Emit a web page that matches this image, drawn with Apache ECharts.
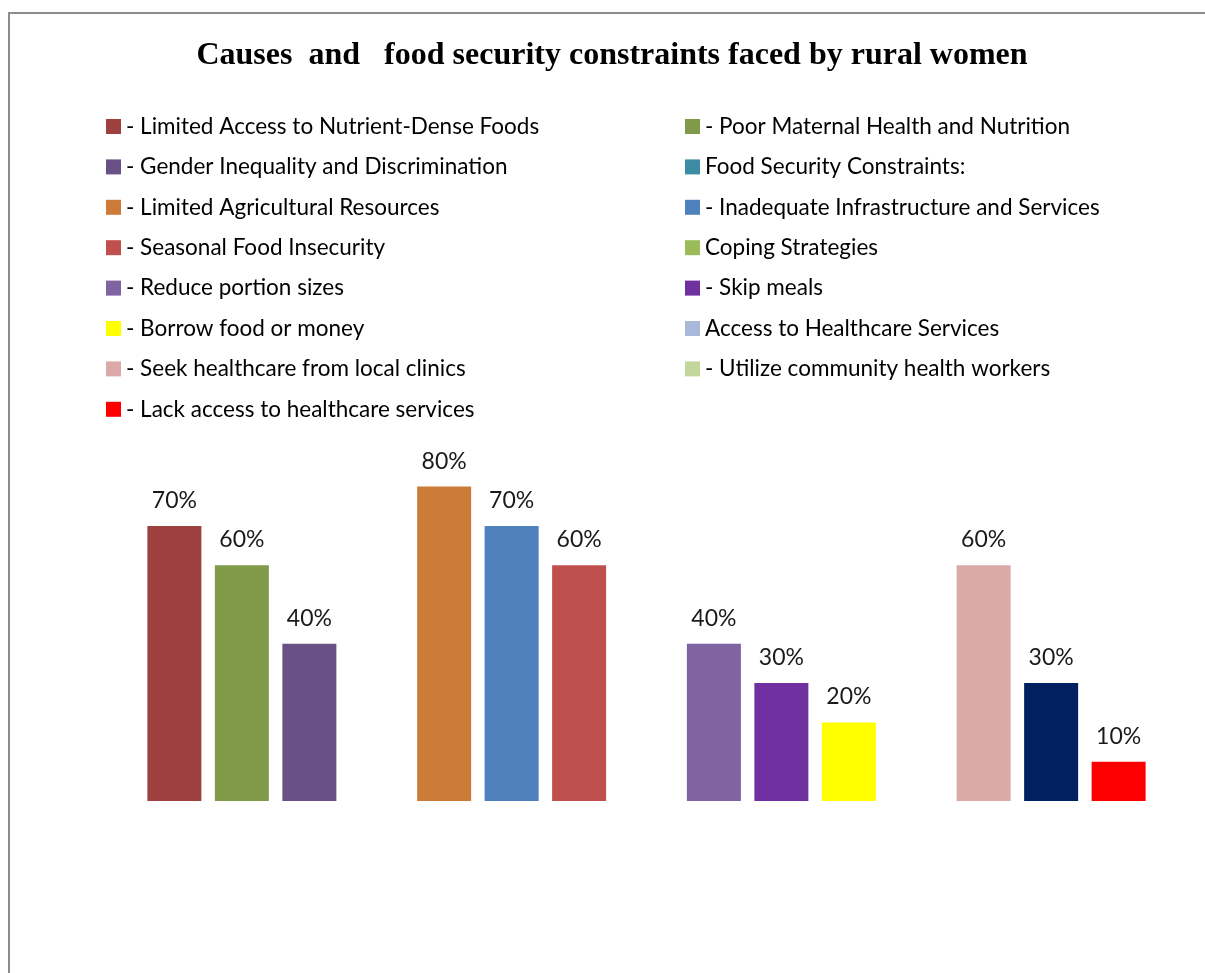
<!DOCTYPE html>
<html>
<head>
<meta charset="utf-8">
<title>Causes and food security constraints faced by rural women</title>
<script src="https://cdn.jsdelivr.net/npm/echarts@6/dist/echarts.min.js"></script>
<style>
  html, body { margin: 0; padding: 0; background: #fff; }
  #chart { width: 1205px; height: 973px; }
</style>
</head>
<body>
<div id="chart"></div>
<script>
// categories (x axis is hidden in the original)
const categories = ['Causes', 'Food Security Constraints', 'Coping Strategies', 'Access to Healthcare Services']

// one entry per legend item, in legend order
const seriesNames = [
  '- Limited Access to Nutrient-Dense Foods',
  '- Poor Maternal Health and Nutrition',
  '- Gender Inequality and Discrimination',
  'Food Security Constraints:',
  '- Limited Agricultural Resources',
  '- Inadequate Infrastructure and Services',
  '- Seasonal Food Insecurity',
  'Coping Strategies',
  '- Reduce portion sizes',
  '- Skip meals',
  '- Borrow food or money',
  'Access to Healthcare Services',
  '- Seek healthcare from local clinics',
  '- Utilize community health workers',
  '- Lack access to healthcare services'
]
// which category each series has a bar in (null = header row, no bar)
const seriesCategory = [0, 0, 0, null, 1, 1, 1, null, 2, 2, 2, null, 3, 3, 3]
// values in percent
const seriesValues = [70, 60, 40, null, 80, 70, 60, null, 40, 30, 20, null, 60, 30, 10]
// slot inside the group (1st, 2nd, 3rd bar)
const seriesSlot = [0, 1, 2, 0, 0, 1, 2, 0, 0, 1, 2, 0, 0, 1, 2]
// legend colours
const seriesColors = [
  '#9E413E', '#7F9A48', '#695185', '#3C8DA3', '#CC7B38',
  '#4F81BD', '#C0504D', '#9BBB59', '#8064A2', '#7030A0',
  '#FFFF00', '#A9B8D8', '#DBA9A8', '#C3D69B', '#FF0000'
]
// bar colour when the point was recoloured (legend keeps the series colour)
const barColors = [null, null, null, null, null, null, null, null, null, null, null, null, null, '#002060', null]

const chart = echarts.init(document.getElementById('chart'))

const series = seriesNames.map((name, i) => {
  const data = categories.map((c, ci) => {
    if (seriesCategory[i] !== ci) return '-'
    const item = { value: seriesValues[i] / 100 }
    if (barColors[i]) item.itemStyle = { color: barColors[i] }
    return item
  })
  return {
    name: name,
    type: 'bar',
    stack: 'slot' + seriesSlot[i],
    barWidth: 54,
    barGap: '25%',
    itemStyle: { color: seriesColors[i] },
    label: {
      show: true,
      position: 'top',
      distance: 14,
      color: '#1a1a1a',
      fontFamily: 'Lato',
      fontSize: 23,
      formatter: p => Math.round(p.value * 100) + '%'
    },
    data: data
  }
})

const legendBase = {
  orient: 'vertical',
  top: 110,
  itemWidth: 15,
  itemHeight: 15,
  itemGap: 17.4,
  icon: 'rect',
  selectedMode: false,
  textStyle: { fontFamily: 'Lato', fontSize: 22.5, color: '#000', lineHeight: 22 }
}

const option = {
  animation: false,
  backgroundColor: '#fff',
  title: {
    text: 'Causes  and   food security constraints faced by rural women',
    left: 607,
    top: 35,
    textAlign: 'center',
    textStyle: {
      fontFamily: 'Liberation Serif',
      fontWeight: 'bold',
      fontSize: 32,
      color: '#000'
    }
  },
  legend: [
    Object.assign({}, legendBase, { left: 101, data: seriesNames.filter((n, i) => i % 2 === 0) }),
    Object.assign({}, legendBase, { left: 680, data: seriesNames.filter((n, i) => i % 2 === 1) })
  ],
  grid: { left: 107, right: 19, top: 408, bottom: 172 },
  xAxis: {
    type: 'category',
    data: categories,
    show: false
  },
  yAxis: {
    type: 'value',
    min: 0,
    max: 1,
    show: false
  },
  // chart area border (grey frame, top and left visible)
  graphic: [{
    type: 'rect',
    shape: { x: 9, y: 13, width: 1230, height: 1000 },
    style: { fill: null, stroke: '#8c8c8c', lineWidth: 2 },
    silent: true
  }],
  series: series
}

chart.setOption(option)
</script>
</body>
</html>
